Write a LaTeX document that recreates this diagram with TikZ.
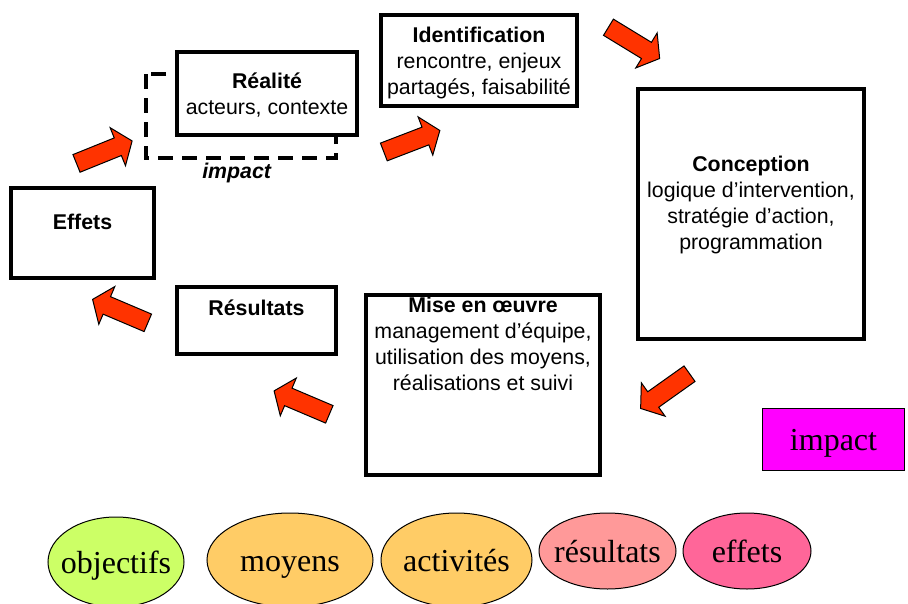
\documentclass[tikz,border=0pt]{standalone}
\usepackage{fontspec}
\setmainfont{Liberation Serif}
\setsansfont{Liberation Sans}
\usetikzlibrary{shapes.geometric,shapes.arrows,fit}
\definecolor{gorange}{HTML}{FF3300}
\definecolor{glime}{HTML}{CCFF66}
\definecolor{gsand}{HTML}{FFCC66}
\definecolor{gpink}{HTML}{FF9999}
\definecolor{grose}{HTML}{FF6699}
\definecolor{gmagenta}{HTML}{FF00FF}

\begin{document}
\begin{tikzpicture}[x=0.75pt,y=-0.75pt]
    \tikzset{box/.style={
      draw,
      line width=2.6pt,
      fill=white,
      inner sep=0pt},
      txt/.style={
      font=\sffamily\fontsize{16}{19.5}\selectfont,
      align=center,
      anchor=base,
      inner sep=0pt},
      arr/.style={
      single arrow,
      draw,
      fill=gorange,
      line width=.75pt,
      inner xsep=0pt,
      inner ysep=6.75pt,
      minimum height=45pt,
      single arrow head extend=8.25pt,
      single arrow tip angle=106},
      bub/.style={
      ellipse,
      draw,
      line width=.75pt,
      inner xsep=-25pt,
      inner ysep=-15pt,
      text height=21.5pt,
      text depth=5pt,
      font=\fontsize{24}{28}\selectfont}}
    \useasboundingbox (0,0) rectangle (908,604);
    % dashed frame behind the first box
    \draw[line width=2.4pt, dash pattern=on 11pt off 7pt] (146,74) rectangle (336,158);
    \node[box, fit={(177,52) (357,135)}] (real) {};
    \node[box, fit={(381,15) (577,106)}] (ident) {};
    \node[box, fit={(638,89) (864,339)}] (conc) {};
    \node[box, fit={(366,295) (600,475)}] (mise) {};
    \node[box, fit={(177,287) (336,354)}] (res) {};
    \node[box, fit={(11,188) (154,278)}] (eff) {};
    \node[txt] at (267,114.5) (realt) {\textbf{Réalité}\\acteurs, contexte};
    \node[txt] at (479,94.5) (identt) {\textbf{Identification}\\rencontre, enjeux\\partagés, faisabilité};
    \node[txt] at (751,249.5) (conct) {\textbf{Conception}\\logique d’intervention,\\stratégie d’action,\\programmation};
    \node[txt] at (483,390.5) (miset) {\textbf{Mise en œuvre}\\management d’équipe,\\utilisation des moyens,\\réalisations et suivi};
    \node[txt] at (256.5,315.5) (rest) {\textbf{Résultats}};
    \node[txt] at (82.5,229.5) (efft) {\textbf{Effets}};
    \node[txt] at (237,178) (imp) {\textbf{\itshape impact}};
    % arrows between the steps
    \node[arr, rotate=22] at (101,153.5) (a1) {};
    \node[arr, rotate=21] at (408.5,142.5) (a2) {};
    \node[arr, rotate=-31.4] at (631,41) (a3) {};
    \node[arr, rotate=-144.6] at (668,389) (a4) {};
    \node[arr, rotate=157] at (305,404) (a5) {};
    \node[arr, rotate=157] at (123.5,312.5) (a6) {};
    \node[draw, fill=gmagenta, line width=.75pt, inner sep=0pt, minimum width=107pt, minimum height=46.5pt, text height=21.5pt, text depth=5pt, font=\fontsize{24}{28}\selectfont] at (833.5,439) (impbox) {impact};
    % legend
    \node[bub, fill=glime, minimum width=102pt, minimum height=67.5pt] at (116,562) (obj) {objectifs};
    \node[bub, fill=gsand, minimum width=124.5pt, minimum height=70.5pt] at (290,560) (moy) {moyens};
    \node[bub, fill=gsand, minimum width=113.25pt, minimum height=70.5pt] at (456.5,560) (act) {activités};
    \node[bub, fill=gpink, minimum width=102.75pt, minimum height=57pt] at (607.5,551) (resl) {résultats};
    \node[bub, fill=grose, minimum width=96pt, minimum height=57pt] at (747,551) (effl) {effets};
  \end{tikzpicture}
\end{document}
